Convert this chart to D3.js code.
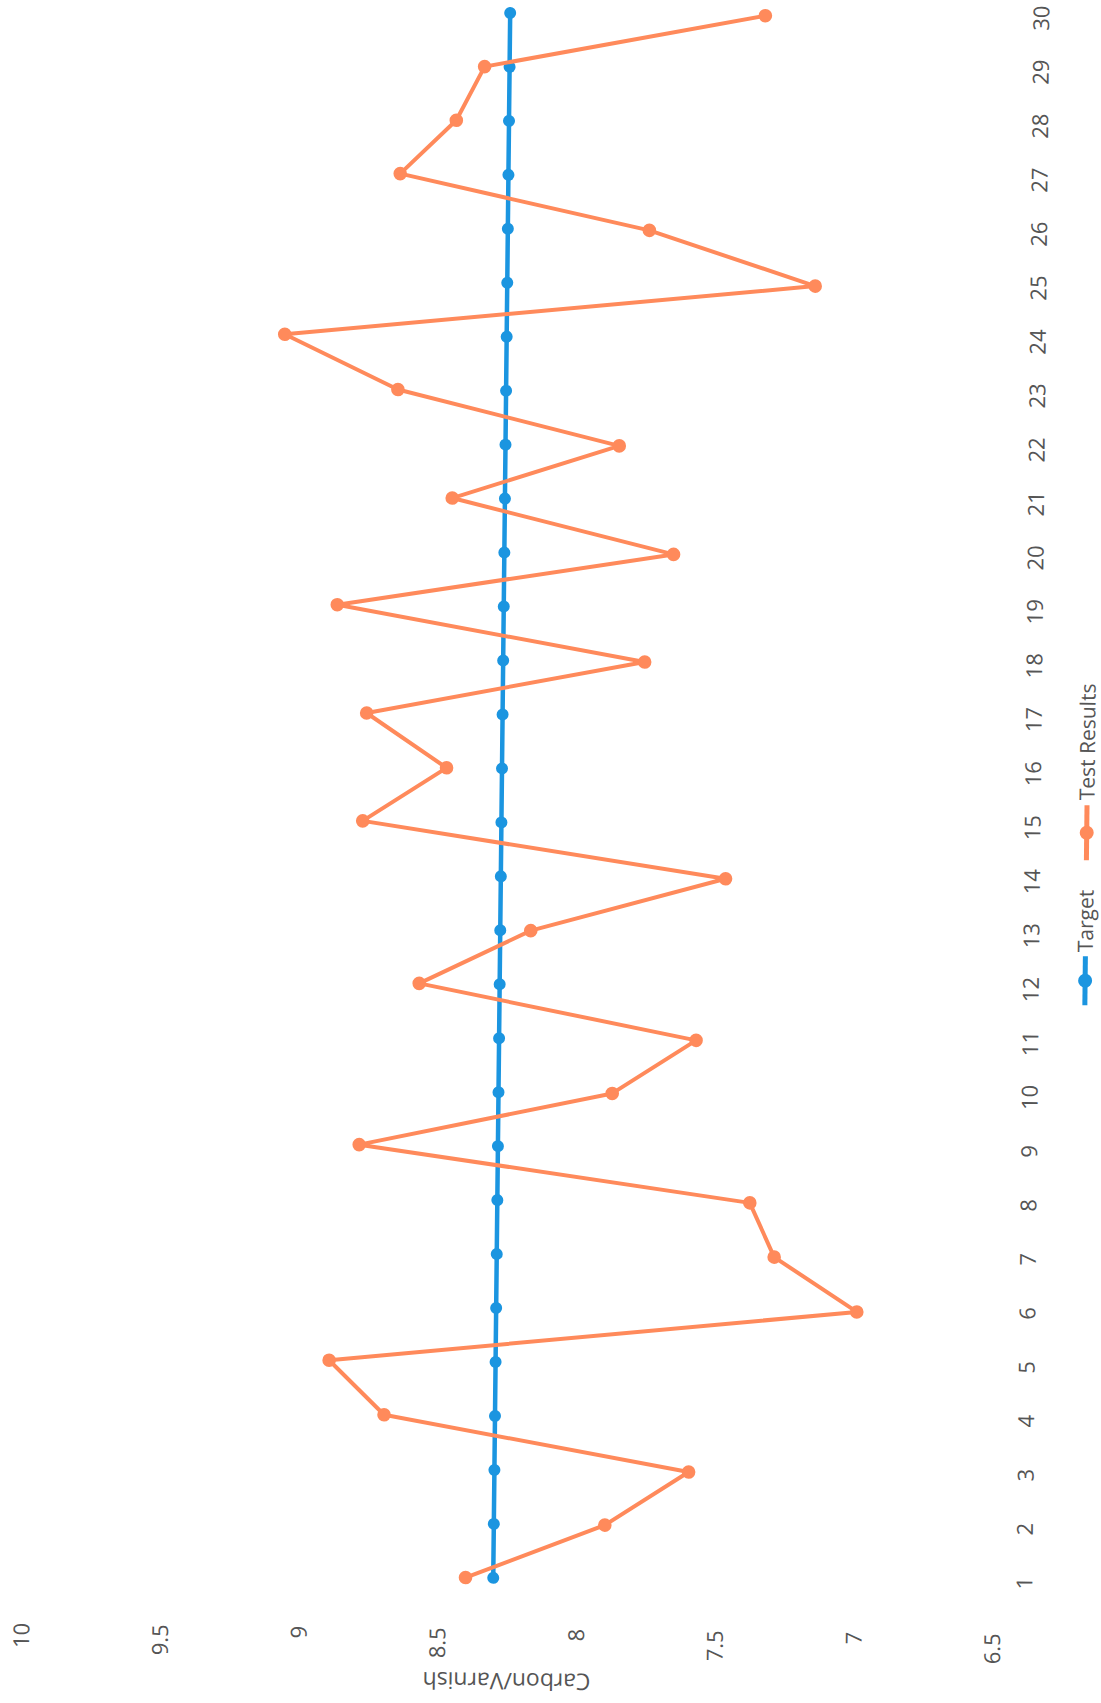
<!DOCTYPE html>
<html>
<head>
<meta charset="utf-8">
<script src="https://cdn.jsdelivr.net/npm/d3@7/dist/d3.min.js"></script>
<style>
  html, body { margin: 0; padding: 0; background: #ffffff; }
  svg { display: block; }
  text { font-family: "Open Sans", "Noto Sans", sans-serif; fill: #555555; }
</style>
</head>
<body>
<svg id="chart" width="1101" height="1703"></svg>
<script>
// ---- data ----
const categories = [1, 2, 3, 4, 5, 6, 7, 8, 9, 10, 11, 12, 13, 14, 15, 16, 17, 18, 19, 20, 21, 22, 23, 24, 25, 26, 27, 28, 29, 30];
const targetValues = [8.3, 8.3, 8.3, 8.3, 8.3, 8.3, 8.3, 8.3, 8.3, 8.3, 8.3, 8.3, 8.3, 8.3, 8.3, 8.3, 8.3, 8.3, 8.3, 8.3, 8.3, 8.3, 8.3, 8.3, 8.3, 8.3, 8.3, 8.3, 8.3, 8.3];
const testResults = [8.4, 7.9, 7.6, 8.7, 8.9, 7.0, 7.3, 7.39, 8.8, 7.89, 7.59, 8.59, 8.19, 7.49, 8.8, 8.5, 8.79, 7.79, 8.9, 7.69, 8.49, 7.89, 8.69, 9.1, 7.19, 7.79, 8.69, 8.49, 8.39, 7.38];
const valueTicks = [6.5, 7, 7.5, 8, 8.5, 9, 9.5, 10];
const seriesNames = ["Target", "Test Results"];
const seriesColors = ["#1b95e0", "#ff8a5b"];

// ---- layout (chart drawn in its own frame, then turned as in the scan) ----
const svg = d3.select("#chart");
svg.append("rect").attr("width", 1101).attr("height", 1703).attr("fill", "#ffffff");

const g = svg.append("g")
  .attr("transform", "rotate(0.62 506 1635) translate(0 1703) rotate(-90)");

const x = d3.scalePoint().domain(categories).range([125, 1690]);
const y = d3.scaleLinear().domain([6.5, 10]).range([992, 21]);

// value axis
const yAxis = d3.axisLeft(y).tickValues(valueTicks).tickSize(0).tickPadding(0)
  .tickFormat(d => String(d));
const ya = g.append("g").attr("transform", "translate(75,0)").call(yAxis);
ya.select(".domain").remove();
ya.selectAll("text").attr("font-size", 22).attr("fill", "#555555")
  .attr("font-family", "'Open Sans', sans-serif").attr("dy", "0.35em");

// category axis
const xAxis = d3.axisBottom(x).tickSize(0).tickPadding(0);
const xa = g.append("g").attr("transform", "translate(0,1024)").call(xAxis);
xa.select(".domain").remove();
xa.selectAll("text").attr("font-size", 22).attr("fill", "#555555")
  .attr("font-family", "'Open Sans', sans-serif").attr("y", 0).attr("dy", "0.35em");

// axis title
g.append("text")
  .attr("transform", "translate(22,507) rotate(-90)")
  .attr("text-anchor", "middle").attr("dy", "0.35em")
  .attr("font-size", 23)
  .text("Carbon/Varnish");

// series
const series = [targetValues, testResults];
const line = d3.line().x((d, i) => x(categories[i])).y(d => y(d));
series.forEach((vals, si) => {
  const sg = g.append("g");
  sg.append("path").datum(vals)
    .attr("d", line)
    .attr("fill", "none")
    .attr("stroke", seriesColors[si])
    .attr("stroke-width", si === 0 ? 4.5 : 4)
    .attr("stroke-linejoin", "round");
  sg.selectAll("circle").data(vals).enter().append("circle")
    .attr("cx", (d, i) => x(categories[i]))
    .attr("cy", d => y(d))
    .attr("r", si === 0 ? 6 : 6.8)
    .attr("fill", seriesColors[si]);
});

// legend
const legendItems = [
  { name: seriesNames[0], color: seriesColors[0], x0: 704, x1: 753, tx: 757 },
  { name: seriesNames[1], color: seriesColors[1], x0: 849, x1: 904, tx: 909 }
];
const lg = g.append("g").attr("transform", "translate(0,1078)");
legendItems.forEach(it => {
  lg.append("line").attr("x1", it.x0).attr("x2", it.x1).attr("y1", 0).attr("y2", 0)
    .attr("stroke", it.color).attr("stroke-width", 5);
  lg.append("circle").attr("cx", (it.x0 + it.x1) / 2).attr("cy", 0).attr("r", 7)
    .attr("fill", it.color);
  lg.append("text").attr("x", it.tx).attr("y", 0).attr("dy", "0.35em")
    .attr("font-size", 21).text(it.name);
});
</script>
</body>
</html>
